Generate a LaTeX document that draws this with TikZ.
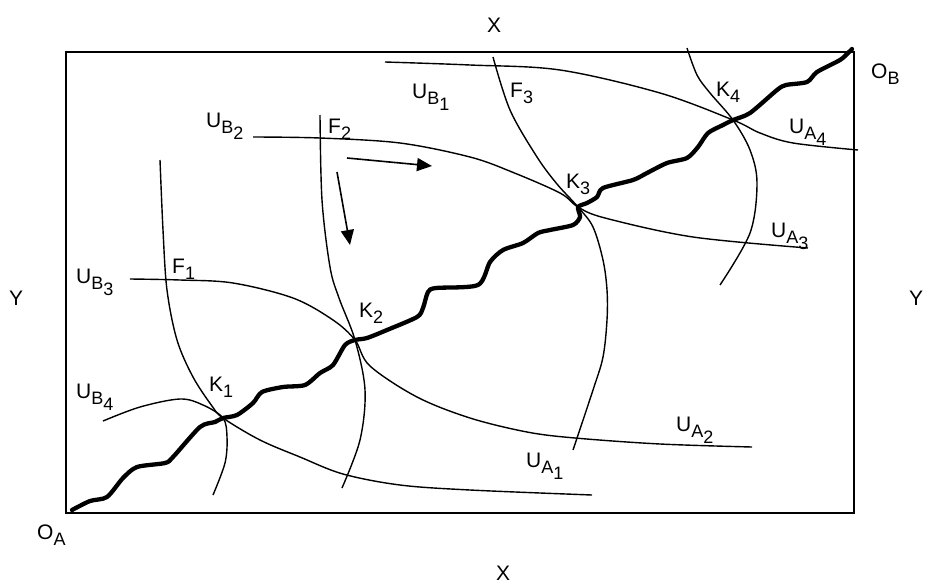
\documentclass[tikz,border=0pt]{standalone}
\usepackage{fontspec}
\setmainfont{Liberation Sans}
\usetikzlibrary{arrows.meta}
\newcommand{\subf}{\fontsize{18}{18}\selectfont}
\newcommand{\lone}[2]{#1\raisebox{-6pt}{\subf #2}}
\newcommand{\ltwo}[3]{#1\raisebox{-6pt}{\subf #2\raisebox{-6pt}{#3}}}
\tikzset{
  lbl/.style={anchor=base west, inner sep=0pt, font=\fontsize{21}{21}\selectfont},
  thin curve/.style={line width=1.4pt, smooth, tension=0.55},
  thick curve/.style={line width=4.3pt, line join=round, line cap=round},
  flow/.style={line width=1.6pt, -{Triangle[length=15pt,width=13pt]}}
}
\begin{document}
\begin{tikzpicture}[x=1pt,y=-1pt]
\useasboundingbox (0,0) rectangle (926,584);
% box
\draw[line width=2pt] (66,52) rectangle (854,513);
% named points
\coordinate (K1) at (223,418);
\coordinate (K2) at (355,340);
\coordinate (K3) at (578,207);
\coordinate (K4) at (733,120);
% curves
\draw[thin curve] plot coordinates {(160,160) (163,230) (167,290) (177,340) (193,377) (212,406) (K1) (260,440) (300,457) (343,474) (400,485) (470,490) (592,495)};
\draw[thin curve] plot coordinates {(103,421) (140,407) (180,399) (203,405) (K1) (227,437) (225,463) (213,495)};
\draw[thin curve] plot coordinates {(320,115) (322,200) (330,267) (339,298) (K2) (365,390) (360,440) (342,488)};
\draw[thin curve] plot coordinates {(130,279) (180,280) (233,283) (293,298) (333,320) (K2) (370,366) (417,397) (470,418) (527,432) (575,438) (660,444) (752,447)};
\draw[thin curve] plot coordinates {(253,137) (320,138) (400,143) (470,157) (512,172) (560,193) (K3) (605,218) (693,237) (808,248)};
\draw[thin curve] plot coordinates {(493,57) (510,110) (537,157) (557,184) (K3) (593,227) (603,260) (607,290) (607,320) (603,357) (593,390) (573,450)};
\draw[thin curve] plot coordinates {(385,62) (470,65) (560,70) (660,93) (K4) (760,133) (793,143) (858,150)};
\draw[thin curve] plot coordinates {(687,48) (697,75) (710,93) (K4) (750,150) (757,183) (750,233) (720,285)};
% contract curve
\draw[thick curve] plot[smooth, tension=0.45] coordinates {(72,510) (90,501) (107,497) (123,478) (137,467) (165,463) (173,457) (200,427) (215,422) (K1) (237,415) (253,403) (262,392) (283,387) (305,385) (320,373) (333,365) (345,345) (K2) (367,338) (387,330) (417,317) (423,308) (428,292) (436,288) (478,285) (490,262) (503,250) (523,243) (538,233) (550,230) (573,225) (580,217) (K3) (587,203) (597,197) (603,188) (633,180) (647,173) (667,163) (687,158) (698,147) (708,133) (723,125) (K4) (750,113) (777,90) (786,85) (807,82) (817,72) (840,60) (848,53) (852,49)};
% arrows
\coordinate (ha) at (347,158); \coordinate (hb) at (432,166);
\coordinate (va) at (337,172); \coordinate (vb) at (350,245);
\draw[flow] (ha) -- (hb);
\draw[flow] (va) -- (vb);
% labels
\node[lbl] (xt) at (487,32) {X};
\node[lbl] (xb) at (496,580) {X};
\node[lbl] (yl) at (9,305) {Y};
\node[lbl] (yr) at (909,305) {Y};
\node[lbl] (oa) at (37,539) {\lone{O}{A}};
\node[lbl] (ob) at (871,78) {\lone{O}{B}};
\node[lbl] (k1) at (209,391) {\lone{K}{1}};
\node[lbl] (k2) at (359,317) {\lone{K}{2}};
\node[lbl] (k3) at (566,188) {\lone{K}{3}};
\node[lbl] (k4) at (716,96) {\lone{K}{4}};
\node[lbl] (f1) at (172,273) {\lone{F}{1}};
\node[lbl] (f2) at (328,133) {\lone{F}{2}};
\node[lbl] (f3) at (510,97) {\lone{F}{3}};
\node[lbl] (ub1) at (412,98) {\ltwo{U}{B}{1}};
\node[lbl] (ub2) at (206,127) {\ltwo{U}{B}{2}};
\node[lbl] (ub3) at (76,283) {\ltwo{U}{B}{3}};
\node[lbl] (ub4) at (76,398) {\ltwo{U}{B}{4}};
\node[lbl] (ua1) at (526,467) {\ltwo{U}{A}{1}};
\node[lbl] (ua2) at (676,431) {\ltwo{U}{A}{2}};
\node[lbl] (ua3) at (771,237) {\ltwo{U}{A}{3}};
\node[lbl] (ua4) at (789,133) {\ltwo{U}{A}{4}};
\end{tikzpicture}
\end{document}
